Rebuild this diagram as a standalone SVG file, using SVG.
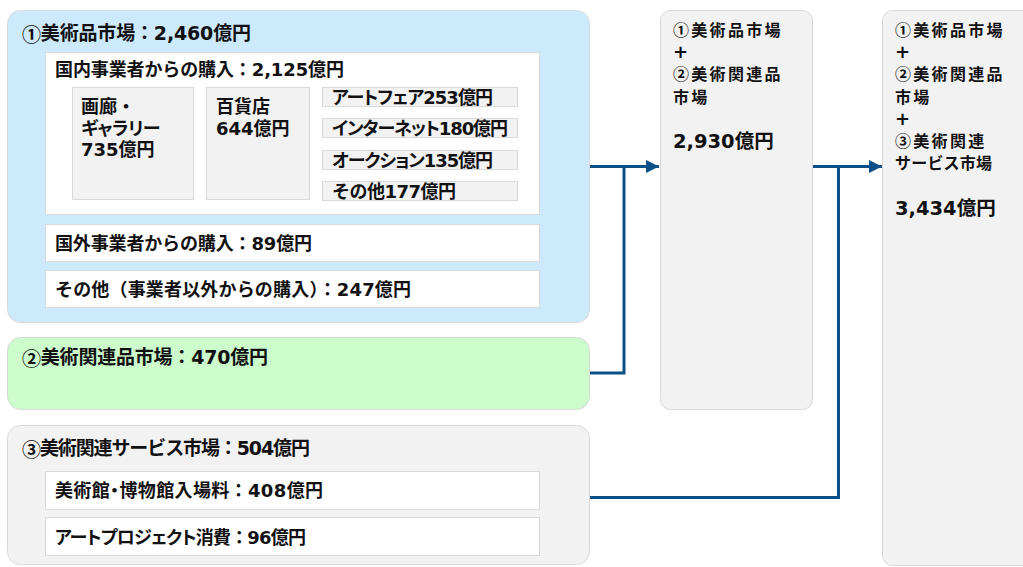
<svg xmlns="http://www.w3.org/2000/svg" width="1023" height="567" viewBox="0 0 1023 567">
<defs>
<style>
text{font-family:'DejaVu Sans','Noto Sans CJK JP',sans-serif;font-weight:bold;fill:#111;dominant-baseline:central}
.cj{font-family:'Noto Sans CJK JP',sans-serif}
.t19{font-size:19px}
.t18{font-size:18px}
.t16{font-size:16px;letter-spacing:2.3px}
.plus{font-family:'DejaVu Sans',sans-serif;font-size:18px;letter-spacing:0}
.n{font-size:19.5px;letter-spacing:0}
.p{font-feature-settings:'palt'}
.card{stroke:#d9d9d9;stroke-width:1}
.white{fill:#fff;stroke:#d9d9d9;stroke-width:1}
.grey{fill:#f2f2f2;stroke:#d9d9d9;stroke-width:1}
.conn{fill:none;stroke:#0c5089;stroke-width:3;stroke-linejoin:miter}
</style>
<marker id="arr" markerUnits="userSpaceOnUse" markerWidth="14" markerHeight="14" refX="13" refY="6.5" orient="auto">
<path d="M0,0 L13,6.5 L0,13 z" fill="#0c5089"/>
</marker>
</defs>
<rect width="1023" height="567" fill="#fff"/>

<g id="art-market">
<rect x="7.5" y="10.5" width="582" height="312" rx="13" fill="#cdeafc" class="card"/>
<text x="22" y="33" class="t19" textLength="229" lengthAdjust="spacing"><tspan class="cj">①</tspan>美術品市場：2,460億円</text>
<rect x="45.5" y="52.5" width="494" height="162" class="white"/>
<text x="55" y="69" class="t18" textLength="289" lengthAdjust="spacing">国内事業者からの購入：2,125億円</text>
<rect x="72.5" y="87.5" width="121" height="112" class="grey"/>
<text class="t18"><tspan x="81" y="106">画廊・</tspan><tspan x="81" y="127.5" class="p" style="letter-spacing:-0.5px">ギャラリー</tspan><tspan x="81" y="149">735億円</tspan></text>
<rect x="206.5" y="87.5" width="103" height="112" class="grey"/>
<text class="t18"><tspan x="216" y="106">百貨店</tspan><tspan x="216" y="127.5">644億円</tspan></text>
<rect x="322.5" y="87.5" width="195" height="19" class="grey"/>
<text x="332" y="97" class="t18 p" textLength="161" lengthAdjust="spacing">アートフェア253億円</text>
<rect x="322.5" y="118.5" width="195" height="19" class="grey"/>
<text x="332" y="128.5" class="t18 p" textLength="176" lengthAdjust="spacing">インターネット180億円</text>
<rect x="322.5" y="150.5" width="195" height="19" class="grey"/>
<text x="332" y="160" class="t18 p" textLength="161" lengthAdjust="spacing">オークション135億円</text>
<rect x="322.5" y="181.5" width="195" height="19" class="grey"/>
<text x="332" y="191" class="t18" textLength="124" lengthAdjust="spacing">その他177億円</text>
<rect x="45.5" y="224.5" width="494" height="37" class="white"/>
<text x="55" y="243" class="t18" textLength="257" lengthAdjust="spacing">国外事業者からの購入：89億円</text>
<rect x="45.5" y="270.5" width="494" height="37" class="white"/>
<text x="55" y="289" class="t18" textLength="356" lengthAdjust="spacing">その他（事業者以外からの購入）：247億円</text>
</g>

<g id="related-goods">
<rect x="7.5" y="337.5" width="582" height="72" rx="13" fill="#ccfccc" class="card"/>
<text x="22" y="357" class="t19" textLength="246" lengthAdjust="spacing"><tspan class="cj">②</tspan>美術関連品市場：470億円</text>
</g>

<g id="related-services">
<rect x="7.5" y="425.5" width="582" height="139" rx="13" fill="#f2f2f2" class="card"/>
<text x="22" y="448" class="t19" textLength="288" lengthAdjust="spacing"><tspan class="cj">③</tspan>美術関連サービス市場：504億円</text>
<rect x="45.5" y="471.5" width="494" height="38" class="white"/>
<text x="55" y="490" class="t18" textLength="268" lengthAdjust="spacing">美術館<tspan class="p">・</tspan>博物館入場料：408億円</text>
<rect x="45.5" y="517.5" width="494" height="38" class="white"/>
<text x="55" y="537" class="t18" textLength="251" lengthAdjust="spacing"><tspan class="p">アートプロジェクト</tspan>消費：96億円</text>
</g>

<g id="total-1-2">
<rect x="660.5" y="10.5" width="152" height="399" rx="10" class="grey"/>
<text class="t16 cj"><tspan x="673" y="28.5">①美術品市場</tspan><tspan x="673" y="50.5" class="plus">+</tspan><tspan x="673" y="73">②美術関連品</tspan><tspan x="673" y="96">市場</tspan></text>
<text x="673" y="141" class="n">2,930億円</text>
</g>

<g id="total-1-2-3">
<rect x="882.5" y="10.5" width="160" height="555" rx="10" class="grey"/>
<text class="t16 cj"><tspan x="895" y="28.5">①美術品市場</tspan><tspan x="895" y="51" class="plus">+</tspan><tspan x="895" y="73">②美術関連品</tspan><tspan x="895" y="95.5">市場</tspan><tspan x="895" y="118" class="plus">+</tspan><tspan x="895" y="140">③美術関連</tspan><tspan x="895" y="162" style="letter-spacing:0.2px">サービス市場</tspan></text>
<text x="895" y="208" class="n">3,434億円</text>
</g>

<g id="connectors">
<path class="conn" d="M590,166.5 H659" marker-end="url(#arr)"/>
<path class="conn" d="M590,373 H624 V166.5"/>
<path class="conn" d="M813,166.5 H882" marker-end="url(#arr)"/>
<path class="conn" d="M590,497.5 H838.5 V166.5"/>
</g>
</svg>
